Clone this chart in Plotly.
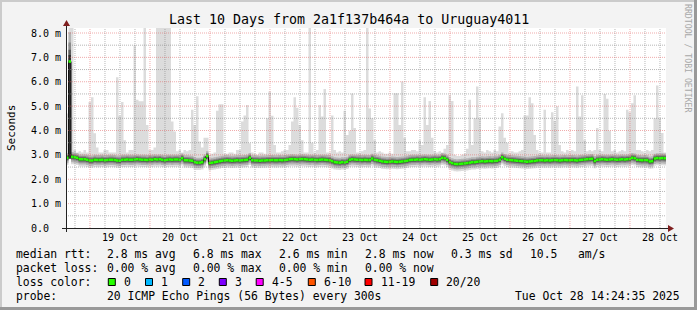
import numpy as np
import pandas as pd
import plotly.graph_objects as go

# ---------------- data ----------------
end_time = pd.Timestamp("2025-10-28 14:24:35")
start_time = end_time - pd.Timedelta(days=10)

# hourly median rtt (ms), 240 hourly buckets from start_time
median_ms = [
    2.88, 6.83, 2.92, 2.90, 2.88, 2.82, 2.82, 2.82, 2.80, 2.77, 2.77, 2.80,
    2.79, 2.79, 2.80, 2.78, 2.79, 2.80, 2.80, 2.79, 2.77, 2.76, 2.80, 2.80,
    2.81, 2.80, 2.80, 2.81, 2.82, 2.81, 2.80, 2.80, 2.79, 2.81, 2.80, 2.82,
    2.81, 2.82, 2.80, 2.78, 2.80, 2.81, 2.80, 2.81, 2.81, 2.80, 2.86, 2.78,
    2.78, 2.77, 2.76, 2.70, 2.68, 2.68, 2.70, 2.82, 2.95, 2.66, 2.68, 2.70,
    2.72, 2.74, 2.76, 2.77, 2.78, 2.77, 2.76, 2.77, 2.78, 2.77, 2.78, 2.79,
    2.80, 2.88, 2.78, 2.77, 2.77, 2.76, 2.77, 2.77, 2.78, 2.78, 2.79, 2.78,
    2.78, 2.79, 2.78, 2.79, 2.80, 2.82, 2.83, 2.82, 2.81, 2.82, 2.83, 2.82,
    2.81, 2.80, 2.81, 2.80, 2.79, 2.80, 2.81, 2.80, 2.79, 2.78, 2.74, 2.70,
    2.69, 2.68, 2.70, 2.69, 2.72, 2.80, 2.82, 2.81, 2.80, 2.80, 2.79, 2.80,
    2.79, 2.79, 2.85, 2.80, 2.78, 2.76, 2.73, 2.72, 2.71, 2.72, 2.73, 2.72,
    2.71, 2.72, 2.73, 2.74, 2.76, 2.79, 2.80, 2.80, 2.81, 2.80, 2.81, 2.82,
    2.81, 2.80, 2.81, 2.82, 2.81, 2.82, 2.88, 2.86, 2.80, 2.70, 2.66, 2.63,
    2.62, 2.63, 2.64, 2.65, 2.66, 2.68, 2.70, 2.70, 2.72, 2.73, 2.74, 2.73,
    2.74, 2.75, 2.74, 2.75, 2.76, 2.80, 2.90, 2.84, 2.80, 2.79, 2.78, 2.77,
    2.76, 2.75, 2.74, 2.73, 2.72, 2.73, 2.74, 2.75, 2.77, 2.78, 2.78, 2.77,
    2.78, 2.77, 2.78, 2.79, 2.78, 2.77, 2.78, 2.79, 2.78, 2.78, 2.79, 2.78,
    2.77, 2.79, 2.80, 2.81, 2.82, 2.83, 2.84, 2.75, 2.80, 2.81, 2.82, 2.81,
    2.80, 2.81, 2.82, 2.81, 2.80, 2.81, 2.82, 2.81, 2.82, 2.83, 2.88, 2.86,
    2.80, 2.79, 2.78, 2.79, 2.78, 2.73, 2.74, 2.85, 2.87, 2.86, 2.87, 2.86,
]

# hourly maximum rtt (ms)
max_ms = [
    4.70, 9.00, 9.00, 3.20, 3.10, 3.15, 3.10, 3.20, 3.10, 5.17, 5.36, 3.89,
    3.30, 3.10, 3.10, 3.20, 3.20, 3.10, 3.10, 3.10, 6.18, 4.60, 5.17, 3.60,
    3.10, 3.20, 3.20, 7.49, 5.26, 5.20, 5.20, 9.00, 4.23, 3.20, 3.20, 3.30,
    9.00, 9.00, 9.00, 9.00, 9.00, 9.00, 4.37, 3.96, 3.15, 3.20, 3.10, 3.20,
    3.15, 3.20, 4.85, 4.23, 5.40, 3.55, 3.30, 3.70, 3.70, 3.00, 3.05, 3.10,
    4.81, 5.08, 5.08, 3.05, 3.05, 3.10, 3.10, 3.05, 3.20, 3.20, 4.37, 4.62,
    5.05, 3.48, 3.10, 3.05, 3.00, 3.10, 3.10, 3.05, 4.50, 5.60, 4.60, 3.40,
    3.10, 3.10, 3.15, 3.20, 3.20, 3.40, 4.37, 5.36, 4.93, 4.23, 3.60, 3.10,
    3.10, 9.00, 3.50, 3.10, 3.20, 5.05, 4.57, 5.70, 3.10, 3.10, 4.62, 3.20,
    3.10, 3.15, 3.10, 4.81, 3.82, 3.99, 5.52, 4.10, 3.10, 3.10, 3.15, 3.20,
    9.00, 4.90, 4.50, 3.60, 3.10, 3.15, 3.10, 3.05, 3.05, 3.10, 3.05, 5.53,
    5.53, 4.23, 6.01, 3.70, 3.15, 3.15, 3.20, 3.20, 3.15, 3.60, 3.40, 5.36,
    4.23, 5.21, 3.70, 3.15, 3.10, 3.15, 3.10, 3.25, 3.40, 5.45, 5.21, 3.00,
    2.95, 2.95, 3.00, 3.05, 3.25, 5.26, 3.40, 4.50, 5.80, 4.50, 3.15, 3.10,
    3.20, 3.15, 3.10, 3.20, 3.15, 4.16, 4.71, 3.70, 3.50, 3.10, 3.15, 3.10,
    3.10, 3.15, 3.20, 4.62, 4.62, 5.36, 5.12, 3.82, 3.20, 3.10, 3.10, 4.85,
    3.10, 3.10, 4.75, 4.40, 4.99, 3.40, 3.15, 3.10, 3.20, 3.15, 3.20, 3.15,
    5.80, 4.57, 5.45, 3.60, 3.15, 3.20, 3.15, 3.20, 4.10, 3.20, 3.15, 5.50,
    5.30, 3.99, 3.15, 3.20, 3.10, 3.15, 3.20, 3.15, 4.85, 4.75, 5.12, 5.45,
    3.20, 3.20, 3.15, 3.10, 3.20, 3.15, 3.20, 4.50, 5.85, 4.50, 3.90, 3.10,
]

# hour whose pings were widely spread (dark smoke column)
burst_idx = [1]
burst_low_ms = [2.85]
burst_scale = [6.0]

y_tick_vals = [0, 1, 2, 3, 4, 5, 6, 7, 8]
y_tick_text = ["0.0\u00a0\u00a0", "1.0 m", "2.0 m", "3.0 m", "4.0 m",
               "5.0 m", "6.0 m", "7.0 m", "8.0 m"]

title_text = "Last 10 Days from 2a1f137b464a to Uruguay4011"
rtt_row = ["2.8 ms avg", "6.8 ms max", "2.6 ms min", "2.8 ms now",
           "0.3 ms sd", "10.5   am/s"]
loss_row = ["0.00 % avg", "0.00 % max", "0.00 % min", "0.00 % now"]
loss_labels = ["0", "1", "2", "3", "4-5", "6-10", "11-19", "20/20"]
loss_colors = ["#26ff00", "#00b8ff", "#0059ff", "#7e00ff", "#ff00ff",
               "#ff5500", "#ff0000", "#a00000"]
probe_text = "20 ICMP Echo Pings (56 Bytes) every 300s"
stamp_text = "Tue Oct 28 14:24:35 2025"

# ---------------- layout geometry ----------------
W, H = 697, 310
PL, PT, PW, PH = 66, 28, 600, 200
YMAX = 8.205
MONO = "DejaVu Sans Mono"


def px(x):
    return (x - PL) / PW


def py(y):
    return (PT + PH - y) / PH


fig = go.Figure()

med = np.array(median_ms, dtype=float)
mx = np.array(max_ms, dtype=float)
edges = pd.date_range(start_time, end_time, periods=len(med) + 1)


def ext(a):
    return np.append(a, a[-1])


smoke_layers = [
    ("#dcdcdc", 0.30, None),
    ("#b4b4b4", 0.22, 0.20),
    ("#8c8c8c", 0.14, 0.13),
    ("#5e5e5e", 0.09, 0.08),
    ("#303030", 0.05, 0.045),
]
for color, dn, up in smoke_layers:
    lo = med - dn
    hi = mx.copy() if up is None else np.minimum(mx, med + up)
    if up is not None:
        for i, low, sc in zip(burst_idx, burst_low_ms, burst_scale):
            lo[i] = low
            hi[i] = min(mx[i], med[i] + up * sc)
    fig.add_trace(go.Scatter(x=edges, y=ext(lo), mode="lines",
                             line=dict(width=0, shape="hv"),
                             hoverinfo="skip", showlegend=False))
    fig.add_trace(go.Scatter(x=edges, y=ext(hi), mode="lines",
                             line=dict(width=0, shape="hv"),
                             fill="tonexty", fillcolor=color,
                             hoverinfo="skip", showlegend=False))

# dark connectors of the median
fig.add_trace(go.Scatter(x=edges, y=ext(med), mode="lines",
                         line=dict(width=1, shape="hv", color="#111111"),
                         hoverinfo="skip", showlegend=False))
# green median segments (loss 0)
seg_x, seg_y = [], []
for i, v in enumerate(med):
    seg_x += [edges[i], edges[i + 1], None]
    seg_y += [v, v, None]
fig.add_trace(go.Scatter(x=seg_x, y=seg_y, mode="lines",
                         line=dict(width=2.6, color=loss_colors[0]),
                         hoverinfo="skip", showlegend=False))

shapes = []
# grid (drawn above data like rrdtool)
minor_col = "rgba(135,135,135,0.6)"
major_col = "rgba(225,90,90,0.5)"
for t in pd.date_range(start_time.ceil("6h"), end_time, freq="6h"):
    is_major = t.hour == 0
    shapes.append(dict(type="line", xref="x", yref="paper", x0=t, x1=t,
                       y0=0, y1=1, layer="above",
                       line=dict(color=major_col if is_major else minor_col,
                                 width=1, dash="1px,1px")))
for k in range(1, 17):
    v = k * 0.5
    shapes.append(dict(type="line", xref="paper", yref="y", x0=0, x1=1,
                       y0=v, y1=v, layer="above",
                       line=dict(color=major_col if k % 2 == 0 else minor_col,
                                 width=1, dash="1px,1px")))

# axes with arrows
axis_col = "#222222"
arrow_col = "#7f1f1f"
shapes.append(dict(type="line", xref="paper", yref="paper",
                   x0=px(62), x1=px(669), y0=py(228.5), y1=py(228.5),
                   line=dict(color=axis_col, width=1), layer="above"))
shapes.append(dict(type="line", xref="paper", yref="paper",
                   x0=px(66.5), x1=px(66.5), y0=py(232), y1=py(25),
                   line=dict(color=axis_col, width=1), layer="above"))
shapes.append(dict(type="path", xref="paper", yref="paper", layer="above",
                   path=f"M {px(668)} {py(225)} L {px(674)} {py(228.5)} L {px(668)} {py(232)} Z",
                   fillcolor=arrow_col, line=dict(width=0)))
shapes.append(dict(type="path", xref="paper", yref="paper", layer="above",
                   path=f"M {px(63)} {py(26)} L {px(66.5)} {py(20)} L {px(70)} {py(26)} Z",
                   fillcolor=arrow_col, line=dict(width=0)))

# 3d frame
shapes.append(dict(type="rect", xref="paper", yref="paper",
                   x0=px(0), x1=px(697), y0=py(0), y1=py(2), line=dict(width=0),
                   fillcolor="#cbcbcb", layer="above"))
shapes.append(dict(type="rect", xref="paper", yref="paper",
                   x0=px(0), x1=px(2), y0=py(0), y1=py(310), line=dict(width=0),
                   fillcolor="#cbcbcb", layer="above"))
shapes.append(dict(type="rect", xref="paper", yref="paper",
                   x0=px(694), x1=px(697), y0=py(0), y1=py(310), line=dict(width=0),
                   fillcolor="#999999", layer="above"))
shapes.append(dict(type="rect", xref="paper", yref="paper",
                   x0=px(0), x1=px(697), y0=py(307), y1=py(310), line=dict(width=0),
                   fillcolor="#999999", layer="above"))

annotations = []


def txt(x, y, s, size=11.4, color="#000000", xanchor="left", angle=0):
    annotations.append(dict(xref="paper", yref="paper", x=px(x), y=py(y),
                            text=s, showarrow=False, xanchor=xanchor,
                            yanchor="middle", textangle=angle,
                            font=dict(family=MONO, size=size, color=color),
                            borderpad=0, borderwidth=0))


# title / side labels
txt(348.5, 19, title_text, size=13.3, xanchor="center")
txt(11, 128, "Seconds", size=11, xanchor="center", angle=-90)
txt(688, 58, "RRDTOOL / TOBI OETIKER", size=8.2, color="#a8a8a8",
    xanchor="center", angle=90)

# legend rows
col_x = [107.3, 193.3, 279.3, 365, 451, 530]
txt(16, 254, "median rtt:")
for x, s in zip(col_x, rtt_row):
    txt(x, 254, s)
txt(16, 268.3, "packet loss:")
for x, s in zip(col_x, loss_row):
    txt(x, 268.3, s)
txt(16, 282.3, "loss color:")
box_x = [108.3, 145.5, 182.7, 219.3, 256.2, 308.3, 365, 430.7]
for x, lab, c in zip(box_x, loss_labels, loss_colors):
    shapes.append(dict(type="rect", xref="paper", yref="paper",
                       x0=px(x), x1=px(x + 7), y0=py(278.5), y1=py(285.5),
                       fillcolor=c, line=dict(color="#000000", width=1),
                       layer="above"))
    txt(x + 15.5, 282.3, lab)
txt(16, 296, "probe:")
txt(107.3, 296, probe_text)
txt(680, 296, stamp_text, xanchor="right")

fig.update_layout(
    width=W, height=H,
    margin=dict(l=PL, r=W - PL - PW, t=PT, b=H - PT - PH, pad=0),
    paper_bgcolor="#f3f3f3", plot_bgcolor="#ffffff",
    showlegend=False, shapes=shapes, annotations=annotations,
    xaxis=dict(type="date", range=[start_time, end_time], showgrid=False,
               dtick=86400000, tick0="2025-10-19 00:00:00",
               ticklabelmode="period", tickformat="%d %b", ticks="",
               showline=False, zeroline=False, ticklabelstandoff=2,
               tickfont=dict(family=MONO, size=10, color="#000000"),
               fixedrange=True),
    yaxis=dict(range=[0, YMAX], tickvals=y_tick_vals, ticktext=y_tick_text,
               showgrid=False, zeroline=False, showline=False, ticks="",
               ticklabelstandoff=4,
               tickfont=dict(family=MONO, size=10, color="#000000"),
               fixedrange=True),
)

fig.write_html("out.html")
